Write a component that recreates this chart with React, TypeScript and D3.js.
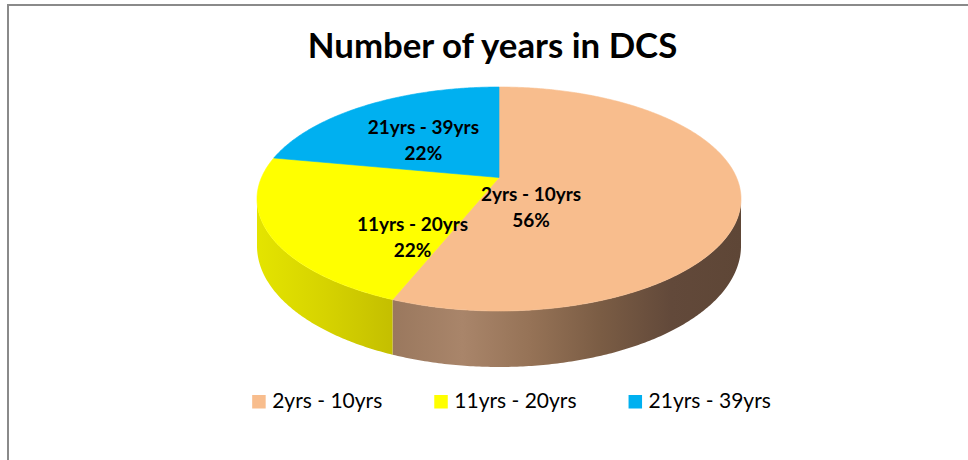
import * as d3 from 'd3';
import { useLayoutEffect, useRef, useState } from 'react';

const title = 'Number of years in DCS';
const categories = ['2yrs - 10yrs', '11yrs - 20yrs', '21yrs - 39yrs'];
const shares = [56, 22, 22];
const percentLabels = ['56%', '22%', '22%'];

const colors = ['#F8BD8D', '#FFFF00', '#00B0F0'];
// side wall shading (Excel lights the pie from the left)
const sideStops = [
  ['#9a785e', '#a9856a', '#957256', '#7a5c44', '#62493a', '#5e4636'],
  ['#e4e400', '#d6d300', '#c4bf00'],
  ['#0090c4', '#007aa8'],
];

const W = 968;
const H = 460;
const FONT = 'Lato, "Noto Sans", sans-serif';

// perspective of the pie's top face
const CX = 499;
const APEX_Y = 177.5;
const TOP_Y = 87;
const FRONT_Y = 311;
const HALF_W = 242;
const FRONT_DEPTH = 56;

const g = (2 * APEX_Y - TOP_Y - FRONT_Y) / (FRONT_Y - TOP_Y);
const p = FRONT_Y * (1 + g) - APEX_Y;
const a = HALF_W * Math.sqrt(1 - g * g);
const drop = FRONT_DEPTH * (1 + g);

// u right, v toward the viewer, both on the unit disc
function project(u: number, v: number, down = 0): [number, number] {
  const w = 1 + g * v;
  return [CX + (a * u) / w, (p * v + APEX_Y + down) / w];
}
const rim = (t: number, down = 0) => project(Math.sin(t), -Math.cos(t), down);

const sample = (t0: number, t1: number) => {
  const n = Math.max(2, Math.ceil((t1 - t0) / 0.01));
  return d3.range(n + 1).map((i) => t0 + ((t1 - t0) * i) / n);
};

// where Excel put the data labels, on the disc
const labelSpots: [number, number][] = [
  [0.128, 0.268],
  [-0.329, 0.5025],
  [-0.341, -0.372],
];

const line = d3.line<[number, number]>();

export default function App() {
  const arcs = d3.pie<number>().sort(null).startAngle(0).endAngle(2 * Math.PI)(shares);
  const tMin = Math.acos(g);
  const tMax = 2 * Math.PI - tMin;

  const legendRefs = useRef<(SVGTextElement | null)[]>([]);
  const [widths, setWidths] = useState<number[]>(categories.map(() => 110));
  useLayoutEffect(() => {
    setWidths(legendRefs.current.map((el) => (el ? el.getComputedTextLength() : 110)));
  }, []);

  const box = 13.5;
  const textGap = 20;
  const itemGap = 52;
  const total = d3.sum(widths) + categories.length * textGap + (categories.length - 1) * itemGap;
  const legendCenter = 511.5;
  let lx = legendCenter - total / 2;
  const legendX = widths.map((w) => {
    const x = lx;
    lx += textGap + w + itemGap;
    return x;
  });

  return (
    <div style={{ position: 'absolute', left: 0, top: 0 }}>
      <svg width={W} height={H} style={{ display: 'block' }}>
        <defs>
          {arcs.map((d, i) => {
            const s0 = Math.max(d.startAngle, tMin);
            const s1 = Math.min(d.endAngle, tMax);
            const xs = s0 < s1 ? sample(s0, s1).map((t) => rim(t)[0]) : [0, 1];
            const x1 = d3.min(xs) as number;
            const x2 = d3.max(xs) as number;
            const st = sideStops[i];
            return (
              <linearGradient key={i} id={`side${i}`} gradientUnits="userSpaceOnUse" x1={x1} x2={x2} y1={0} y2={0}>
                {st.map((c, k) => (
                  <stop key={k} offset={k / (st.length - 1)} stopColor={c} />
                ))}
              </linearGradient>
            );
          })}
        </defs>

        <rect x={8} y={5} width={W + 20} height={H + 20} fill="#fff" stroke="#8a8a8a" strokeWidth={2} />

        <text x={492.5} y={58} textAnchor="middle" fontFamily={FONT} fontWeight="bold" fontSize={34.8} fill="#000">
          {title}
        </text>

        {arcs.map((d, i) => {
          const s0 = Math.max(d.startAngle, tMin);
          const s1 = Math.min(d.endAngle, tMax);
          if (s0 >= s1) return null;
          const ts = sample(s0, s1);
          const pts = [...ts.map((t) => rim(t)), ...ts.slice().reverse().map((t) => rim(t, drop))];
          return <path key={`s${i}`} d={line(pts) + 'Z'} fill={`url(#side${i})`} />;
        })}

        {arcs.map((d, i) => {
          const pts: [number, number][] = [project(0, 0), ...sample(d.startAngle, d.endAngle).map((t) => rim(t))];
          return <path key={`t${i}`} d={line(pts) + 'Z'} fill={colors[i]} stroke={colors[i]} strokeWidth={0.6} />;
        })}

        {labelSpots.map(([u, v], i) => {
          const [x, y] = project(u, v);
          return (
            <text key={`l${i}`} x={x} textAnchor="middle" fontFamily={FONT} fontWeight="bold" fontSize={19} fill="#000">
              <tspan x={x} y={y - 6.5}>{categories[i]}</tspan>
              <tspan x={x} y={y + 19.5}>{percentLabels[i]}</tspan>
            </text>
          );
        })}

        {categories.map((c, i) => (
          <g key={`g${i}`} transform={`translate(${legendX[i]},0)`}>
            <rect x={0} y={395} width={box} height={box} fill={colors[i]} />
            <text
              ref={(el) => {
                legendRefs.current[i] = el;
              }}
              x={textGap}
              y={408}
              fontFamily={FONT}
              fontSize={21}
              fill="#000"
            >
              {c}
            </text>
          </g>
        ))}
      </svg>
    </div>
  );
}
